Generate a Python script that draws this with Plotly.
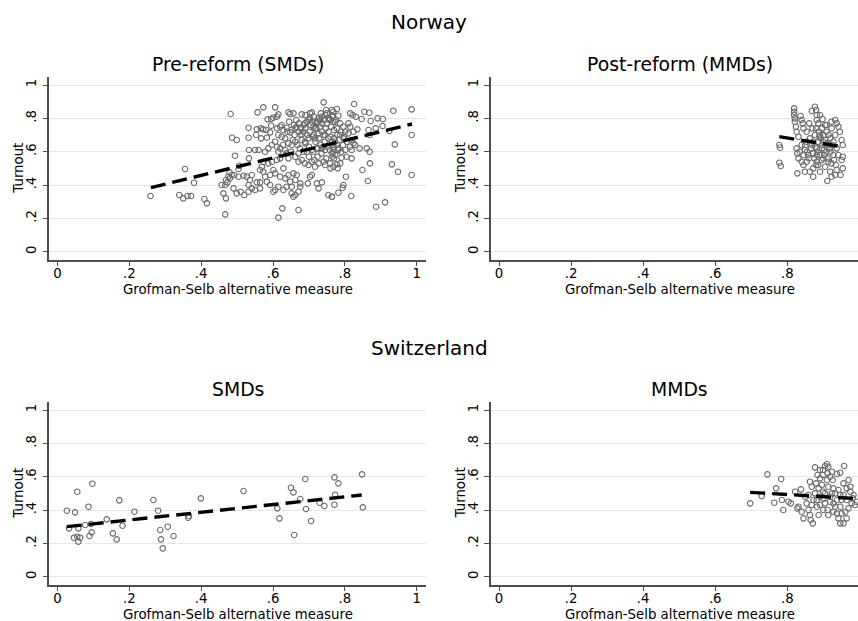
import plotly.graph_objects as go

# ---------------- data ----------------
norway_pre = [
    (0.259, 0.334), (0.355, 0.496), (0.339, 0.34), (0.350, 0.32), (0.362, 0.334), (0.372, 0.334),
    (0.380, 0.414), (0.409, 0.316), (0.416, 0.29), (0.467, 0.224), (0.482, 0.826), (0.486, 0.684),
    (0.499, 0.67), (0.494, 0.576), (0.506, 0.516), (0.479, 0.476), (0.485, 0.46), (0.476, 0.45),
    (0.469, 0.43), (0.457, 0.40), (0.467, 0.40), (0.473, 0.416), (0.48, 0.44), (0.492, 0.46),
    (0.504, 0.45), (0.518, 0.456), (0.462, 0.35), (0.469, 0.32), (0.49, 0.38), (0.499, 0.35),
    (0.51, 0.36), (0.52, 0.34), (0.504, 0.496),
    # middle cluster
    (0.741, 0.896), (0.557, 0.836), (0.573, 0.866), (0.606, 0.866), (0.643, 0.836), (0.657, 0.83),
    (0.648, 0.826), (0.680, 0.824), (0.703, 0.83), (0.708, 0.836), (0.750, 0.83), (0.764, 0.85),
    (0.585, 0.794), (0.595, 0.796), (0.601, 0.804), (0.611, 0.81), (0.615, 0.824), (0.532, 0.744),
    (0.532, 0.684), (0.533, 0.61), (0.533, 0.56), (0.555, 0.734), (0.566, 0.74), (0.573, 0.734),
    (0.581, 0.73), (0.553, 0.70), (0.567, 0.68), (0.583, 0.684), (0.595, 0.756), (0.592, 0.716),
    (0.611, 0.74), (0.620, 0.75), (0.624, 0.76), (0.629, 0.73), (0.638, 0.744), (0.648, 0.716),
    (0.652, 0.73), (0.662, 0.74), (0.666, 0.75), (0.671, 0.72), (0.676, 0.70), (0.680, 0.704),
    (0.685, 0.76), (0.689, 0.77), (0.694, 0.78), (0.699, 0.79), (0.708, 0.78), (0.713, 0.75),
    (0.717, 0.74), (0.722, 0.77), (0.727, 0.80), (0.731, 0.79), (0.736, 0.81), (0.745, 0.82),
    (0.754, 0.804), (0.759, 0.796), (0.766, 0.816), (0.768, 0.78), (0.713, 0.70), (0.717, 0.68),
    (0.727, 0.71), (0.736, 0.72), (0.745, 0.70), (0.754, 0.68), (0.764, 0.66), (0.699, 0.68),
    (0.689, 0.66), (0.680, 0.67), (0.662, 0.66), (0.652, 0.64), (0.643, 0.65), (0.634, 0.68),
    (0.624, 0.69), (0.615, 0.70), (0.606, 0.66), (0.597, 0.64), (0.611, 0.63), (0.587, 0.62),
    (0.578, 0.60), (0.560, 0.61), (0.550, 0.61), (0.634, 0.61), (0.638, 0.59), (0.643, 0.56),
    (0.662, 0.57), (0.671, 0.54), (0.680, 0.55), (0.689, 0.53), (0.699, 0.52), (0.708, 0.54),
    (0.717, 0.51), (0.727, 0.53), (0.741, 0.54), (0.745, 0.52), (0.759, 0.53), (0.766, 0.57),
    (0.768, 0.60), (0.745, 0.61), (0.736, 0.62), (0.722, 0.62), (0.708, 0.61), (0.694, 0.60),
    (0.685, 0.60), (0.671, 0.59), (0.615, 0.60), (0.611, 0.55), (0.620, 0.56), (0.597, 0.54),
    (0.587, 0.53), (0.573, 0.54), (0.569, 0.51), (0.564, 0.49), (0.573, 0.48), (0.578, 0.45),
    (0.592, 0.46), (0.583, 0.42), (0.601, 0.49), (0.606, 0.47), (0.620, 0.45), (0.629, 0.50),
    (0.634, 0.44), (0.643, 0.46), (0.648, 0.42), (0.657, 0.47), (0.662, 0.43), (0.666, 0.46),
    (0.676, 0.41), (0.652, 0.39), (0.638, 0.39), (0.629, 0.37), (0.615, 0.39), (0.601, 0.36),
    (0.606, 0.37), (0.592, 0.40), (0.527, 0.45), (0.541, 0.46), (0.536, 0.43), (0.532, 0.40),
    (0.541, 0.38), (0.532, 0.36), (0.555, 0.416), (0.564, 0.416), (0.564, 0.38), (0.550, 0.37),
    (0.676, 0.39), (0.662, 0.34), (0.657, 0.33), (0.671, 0.36), (0.652, 0.35), (0.697, 0.41),
    (0.703, 0.45), (0.722, 0.41), (0.736, 0.416), (0.727, 0.38), (0.708, 0.46), (0.754, 0.34),
    (0.764, 0.33), (0.626, 0.26), (0.671, 0.25), (0.615, 0.204),
    # right part
    (0.826, 0.886), (0.778, 0.856), (0.768, 0.84), (0.782, 0.816), (0.815, 0.83), (0.822, 0.82),
    (0.831, 0.81), (0.847, 0.796), (0.854, 0.84), (0.868, 0.834), (0.872, 0.784), (0.891, 0.80),
    (0.906, 0.796), (0.905, 0.754), (0.935, 0.846), (0.986, 0.854), (0.924, 0.724), (0.886, 0.74),
    (0.866, 0.73), (0.835, 0.734), (0.815, 0.75), (0.810, 0.77), (0.796, 0.75), (0.787, 0.77),
    (0.773, 0.78), (0.778, 0.74), (0.801, 0.72), (0.810, 0.71), (0.824, 0.72), (0.787, 0.70),
    (0.770, 0.68), (0.819, 0.67), (0.824, 0.65), (0.829, 0.64), (0.815, 0.63), (0.805, 0.66),
    (0.796, 0.68), (0.778, 0.64), (0.768, 0.62), (0.782, 0.61), (0.801, 0.61), (0.819, 0.61),
    (0.841, 0.62), (0.861, 0.62), (0.869, 0.60), (0.869, 0.70), (0.939, 0.644), (0.986, 0.70),
    (0.986, 0.46), (0.931, 0.524), (0.948, 0.48), (0.870, 0.53), (0.849, 0.49), (0.864, 0.424),
    (0.803, 0.45), (0.796, 0.40), (0.794, 0.384), (0.782, 0.354), (0.764, 0.33), (0.818, 0.334),
    (0.887, 0.27), (0.912, 0.296), (0.819, 0.56), (0.805, 0.57), (0.791, 0.564), (0.787, 0.53),
    (0.778, 0.524), (0.768, 0.51), (0.773, 0.58), (0.764, 0.59),
    # dense core
    (0.665, 0.79), (0.672, 0.77), (0.678, 0.74), (0.684, 0.72), (0.690, 0.74), (0.696, 0.70),
    (0.702, 0.72), (0.705, 0.76), (0.710, 0.69), (0.714, 0.81), (0.718, 0.66), (0.721, 0.74),
    (0.725, 0.78), (0.728, 0.68), (0.731, 0.75), (0.733, 0.64), (0.737, 0.77), (0.740, 0.70),
    (0.742, 0.79), (0.744, 0.66), (0.747, 0.74), (0.750, 0.77), (0.752, 0.63), (0.755, 0.72),
    (0.757, 0.79), (0.760, 0.69), (0.762, 0.75), (0.765, 0.81), (0.767, 0.64), (0.770, 0.73),
    (0.773, 0.66), (0.776, 0.79), (0.779, 0.70), (0.782, 0.62), (0.785, 0.67), (0.790, 0.72),
    (0.795, 0.64), (0.798, 0.69), (0.690, 0.65), (0.700, 0.63), (0.712, 0.60), (0.724, 0.57),
    (0.735, 0.59), (0.748, 0.56), (0.758, 0.61), (0.690, 0.82), (0.703, 0.80), (0.718, 0.78),
    (0.733, 0.83), (0.748, 0.85), (0.660, 0.70), (0.655, 0.67), (0.668, 0.64), (0.675, 0.62),
    (0.650, 0.60), (0.640, 0.72), (0.628, 0.64), (0.620, 0.62), (0.645, 0.78), (0.658, 0.76),
    (0.700, 0.57), (0.715, 0.55), (0.725, 0.62), (0.740, 0.63), (0.770, 0.56), (0.780, 0.50),
    (0.760, 0.50), (0.790, 0.60),
]

norway_post = [
    (0.778, 0.64), (0.780, 0.624), (0.778, 0.534), (0.782, 0.514), (0.819, 0.86), (0.819, 0.84),
    (0.819, 0.82), (0.821, 0.80), (0.821, 0.78), (0.824, 0.75), (0.826, 0.72), (0.837, 0.814),
    (0.840, 0.79), (0.843, 0.77), (0.831, 0.69), (0.826, 0.62), (0.828, 0.59), (0.831, 0.56),
    (0.828, 0.47), (0.840, 0.54), (0.845, 0.52), (0.840, 0.64), (0.849, 0.61), (0.854, 0.66),
    (0.858, 0.58), (0.861, 0.77), (0.868, 0.844), (0.877, 0.87), (0.880, 0.85), (0.882, 0.82),
    (0.882, 0.79), (0.880, 0.74), (0.877, 0.70), (0.872, 0.50), (0.872, 0.45), (0.886, 0.52),
    (0.891, 0.58), (0.896, 0.62), (0.900, 0.66), (0.898, 0.796), (0.905, 0.76), (0.909, 0.72),
    (0.911, 0.424), (0.919, 0.48), (0.923, 0.53), (0.928, 0.58), (0.933, 0.79), (0.937, 0.77),
    (0.942, 0.75), (0.946, 0.72), (0.951, 0.67), (0.954, 0.64), (0.954, 0.57), (0.951, 0.55),
    (0.954, 0.50), (0.937, 0.49), (0.948, 0.46), (0.889, 0.69), (0.863, 0.68), (0.854, 0.72),
    (0.845, 0.74), (0.868, 0.64), (0.882, 0.62), (0.886, 0.66), (0.891, 0.70), (0.896, 0.74),
    (0.900, 0.56), (0.909, 0.60), (0.914, 0.64), (0.919, 0.68), (0.928, 0.66), (0.933, 0.70),
    (0.937, 0.62), (0.942, 0.58), (0.854, 0.54), (0.863, 0.48), (0.849, 0.48), (0.882, 0.54),
    (0.891, 0.48), (0.905, 0.51), (0.914, 0.54), (0.923, 0.45), (0.933, 0.46), (0.845, 0.58),
    (0.835, 0.60), (0.872, 0.59), (0.882, 0.58), (0.900, 0.70), (0.909, 0.76), (0.923, 0.74),
    (0.923, 0.78), (0.870, 0.74), (0.891, 0.82), (0.886, 0.77),
    (0.872, 0.66), (0.878, 0.63), (0.884, 0.60), (0.888, 0.72), (0.893, 0.68), (0.897, 0.64),
    (0.902, 0.61), (0.906, 0.67), (0.910, 0.65), (0.915, 0.70), (0.918, 0.62), (0.875, 0.56),
    (0.880, 0.52), (0.895, 0.55), (0.903, 0.58), (0.912, 0.56), (0.920, 0.60), (0.925, 0.64),
    (0.930, 0.55), (0.935, 0.52), (0.866, 0.62), (0.860, 0.56), (0.855, 0.60), (0.850, 0.64),
]

swiss_smd = [
    (0.026, 0.396), (0.032, 0.29), (0.046, 0.234), (0.049, 0.386), (0.055, 0.51), (0.058, 0.29),
    (0.055, 0.24), (0.058, 0.21), (0.063, 0.234), (0.077, 0.31), (0.086, 0.42), (0.089, 0.244),
    (0.095, 0.266), (0.093, 0.316), (0.097, 0.558), (0.137, 0.344), (0.154, 0.26), (0.165, 0.224),
    (0.172, 0.458), (0.181, 0.306), (0.214, 0.39), (0.267, 0.46), (0.280, 0.396), (0.286, 0.28),
    (0.288, 0.224), (0.293, 0.17), (0.307, 0.30), (0.323, 0.244), (0.364, 0.354), (0.366, 0.364),
    (0.399, 0.47), (0.518, 0.514), (0.612, 0.41), (0.618, 0.35), (0.650, 0.534), (0.657, 0.506),
    (0.659, 0.25), (0.676, 0.466), (0.690, 0.586), (0.692, 0.406), (0.706, 0.334), (0.730, 0.444),
    (0.743, 0.424), (0.771, 0.596), (0.773, 0.492), (0.771, 0.432), (0.782, 0.56), (0.848, 0.614),
    (0.850, 0.416),
]

swiss_mmd = [
    (0.697, 0.44), (0.729, 0.484), (0.745, 0.614), (0.783, 0.586), (0.769, 0.53), (0.764, 0.444),
    (0.785, 0.46), (0.789, 0.40), (0.803, 0.45), (0.810, 0.44), (0.822, 0.51), (0.838, 0.524),
    (0.828, 0.41), (0.840, 0.39), (0.845, 0.35), (0.831, 0.42), (0.859, 0.49), (0.863, 0.57),
    (0.868, 0.54), (0.877, 0.656), (0.884, 0.61), (0.891, 0.59), (0.899, 0.64), (0.905, 0.664),
    (0.910, 0.676), (0.914, 0.66), (0.912, 0.62), (0.919, 0.60), (0.926, 0.58), (0.938, 0.616),
    (0.947, 0.624), (0.958, 0.664), (0.970, 0.58), (0.975, 0.54), (0.982, 0.47), (0.988, 0.43),
    (0.859, 0.40), (0.863, 0.37), (0.865, 0.34), (0.871, 0.32), (0.887, 0.37), (0.882, 0.42),
    (0.873, 0.46), (0.891, 0.48), (0.900, 0.51), (0.905, 0.44), (0.912, 0.40), (0.919, 0.45),
    (0.924, 0.50), (0.928, 0.53), (0.933, 0.42), (0.938, 0.38), (0.942, 0.35), (0.947, 0.42),
    (0.951, 0.46), (0.956, 0.49), (0.961, 0.39), (0.965, 0.35), (0.956, 0.32), (0.947, 0.32),
    (0.970, 0.41), (0.975, 0.51), (0.979, 0.44), (0.896, 0.55), (0.914, 0.54), (0.933, 0.50),
    (0.905, 0.50), (0.887, 0.53), (0.877, 0.50), (0.880, 0.56), (0.891, 0.43), (0.900, 0.40),
    (0.914, 0.37), (0.928, 0.39), (0.938, 0.46), (0.942, 0.52), (0.956, 0.56), (0.965, 0.46),
    (0.919, 0.48), (0.900, 0.47), (0.882, 0.46), (0.868, 0.43), (0.854, 0.44), (0.850, 0.48),
    (0.928, 0.44), (0.947, 0.49), (0.951, 0.38), (0.984, 0.49), (0.993, 0.45), (0.965, 0.53),
    (0.910, 0.58), (0.924, 0.63), (0.899, 0.61), (0.891, 0.64),
]

# linear-fit lines (end points)
fit_norway_pre_x, fit_norway_pre_y = [0.26, 0.987], [0.384, 0.766]
fit_norway_post_x, fit_norway_post_y = [0.778, 0.951], [0.69, 0.63]
fit_swiss_smd_x, fit_swiss_smd_y = [0.026, 0.847], [0.30, 0.49]
fit_swiss_mmd_x, fit_swiss_mmd_y = [0.697, 0.99], [0.506, 0.469]

tick_vals = [0, 0.2, 0.4, 0.6, 0.8, 1]
tick_text = ["0", ".2", ".4", ".6", ".8", "1"]

country_titles = ["Norway", "Switzerland"]
panel_titles = ["Pre-reform (SMDs)", "Post-reform (MMDs)", "SMDs", "MMDs"]
x_title = "Grofman-Selb alternative measure"
y_title = "Turnout"

# ---------------- figure ----------------
W, H = 858, 621
FONT = "DejaVu Sans"
MARKER_COLOR = "#6a6a6a"
GRID_COLOR = "#e6e6e6"
AXIS_COLOR = "#4d4d4d"

panels = [
    (norway_pre, fit_norway_pre_x, fit_norway_pre_y),
    (norway_post, fit_norway_post_x, fit_norway_post_y),
    (swiss_smd, fit_swiss_smd_x, fit_swiss_smd_y),
    (swiss_mmd, fit_swiss_mmd_x, fit_swiss_mmd_y),
]

# pixel geometry of the plot areas
L0, L1 = 49.3, 426.0          # left column (px)
R0, R1 = 491.0, 868.0         # right column (px, runs past the page edge)
T0, T1 = 76.7, 260.0          # top row (px from top)
B0, B1 = 401.7, 585.0         # bottom row
left_dom = [L0 / W, L1 / W]
right_dom = [R0 / W, 1.0]
top_dom = [1 - T1 / H, 1 - T0 / H]
bot_dom = [1 - B1 / H, 1 - B0 / H]
x_range_full = [-0.0229, 1.026]
x_range_right = [-0.0225, (858 - 499.3) / 360.0]
y_range = [-0.05, 1.05]

doms = [(left_dom, top_dom), (right_dom, top_dom), (left_dom, bot_dom), (right_dom, bot_dom)]
px_boxes = [((L0, L1), (T0, T1)), ((R0, R1), (T0, T1)), ((L0, L1), (B0, B1)), ((R0, R1), (B0, B1))]

fig = go.Figure()
for i, (pts, fx, fy) in enumerate(panels):
    suffix = "" if i == 0 else str(i + 1)
    xs = [p[0] for p in pts]
    ys = [p[1] for p in pts]
    fig.add_trace(go.Scatter(
        x=xs, y=ys, mode="markers", xaxis="x" + suffix, yaxis="y" + suffix,
        marker=dict(symbol="circle-open", size=5.5, color=MARKER_COLOR, line=dict(width=1.1)),
        showlegend=False, hoverinfo="skip"))
    fig.add_trace(go.Scatter(
        x=fx, y=fy, mode="lines", xaxis="x" + suffix, yaxis="y" + suffix,
        line=dict(color="black", width=3.4, dash="15px,7px"),
        showlegend=False, hoverinfo="skip"))

layout = dict(
    width=W, height=H, margin=dict(l=0, r=0, t=0, b=0),
    paper_bgcolor="white", plot_bgcolor="white",
    font=dict(family=FONT, color="black", size=13),
    showlegend=False,
)

tfont = dict(size=13.3, family=FONT, color="black")
for i, (xd, yd) in enumerate(doms):
    suffix = "" if i == 0 else str(i + 1)
    right = i in (1, 3)
    layout["xaxis" + suffix] = dict(
        domain=xd, anchor="y" + suffix, range=x_range_right if right else x_range_full,
        tickmode="array", tickvals=tick_vals, ticktext=tick_text,
        showgrid=False, zeroline=False, showline=True, linecolor=AXIS_COLOR, linewidth=1.6,
        ticks="outside", ticklen=4, tickwidth=1.2, tickcolor=AXIS_COLOR,
        tickfont=tfont, ticklabelstandoff=-4, automargin=False, fixedrange=True,
    )
    layout["yaxis" + suffix] = dict(
        domain=yd, anchor="x" + suffix, range=y_range,
        tickmode="array", tickvals=tick_vals, ticktext=tick_text, tickangle=-90,
        showgrid=True, gridcolor=GRID_COLOR, gridwidth=1.2, zeroline=False,
        showline=True, linecolor=AXIS_COLOR, linewidth=1.6,
        ticks="outside", ticklen=5, tickwidth=1.2, tickcolor=AXIS_COLOR,
        tickfont=tfont, ticklabelstandoff=1,
        automargin=False, fixedrange=True,
    )

annotations = []
# country titles
for txt, ypx in zip(country_titles, [22, 348]):
    annotations.append(dict(text=txt, x=0.5, y=1 - ypx / H, xref="paper", yref="paper",
                            showarrow=False, xanchor="center", yanchor="middle",
                            font=dict(size=20, family=FONT, color="black")))
# panel titles and axis titles
for i, (txt, ((x0, x1), (y0, y1))) in enumerate(zip(panel_titles, px_boxes)):
    cx = (x0 + x1) / 2
    cy = (y0 + y1) / 2
    annotations.append(dict(text=txt, x=cx / W, y=1 - (y0 - 12.5) / H, xref="paper", yref="paper",
                            showarrow=False, xanchor="center", yanchor="middle",
                            font=dict(size=18.8, family=FONT, color="black")))
    annotations.append(dict(text=x_title, x=cx / W, y=1 - (y1 + 29) / H, xref="paper", yref="paper",
                            showarrow=False, xanchor="center", yanchor="middle", font=tfont))
    annotations.append(dict(text=y_title, x=(x0 - 31) / W, y=1 - cy / H, xref="paper", yref="paper",
                            showarrow=False, xanchor="center", yanchor="middle", textangle=-90,
                            font=tfont))
# clipped "1" tick label at the right edge of the right-hand panels
for suffix, ypx in [("2", T1 + 11.5), ("4", B1 + 11.5)]:
    annotations.append(dict(text="1", x=1, y=1 - ypx / H, xref="x" + suffix, yref="paper",
                            showarrow=False, xanchor="center", yanchor="middle", font=tfont))
layout["annotations"] = annotations

fig.update_layout(**layout)
fig.write_html("out.html")
